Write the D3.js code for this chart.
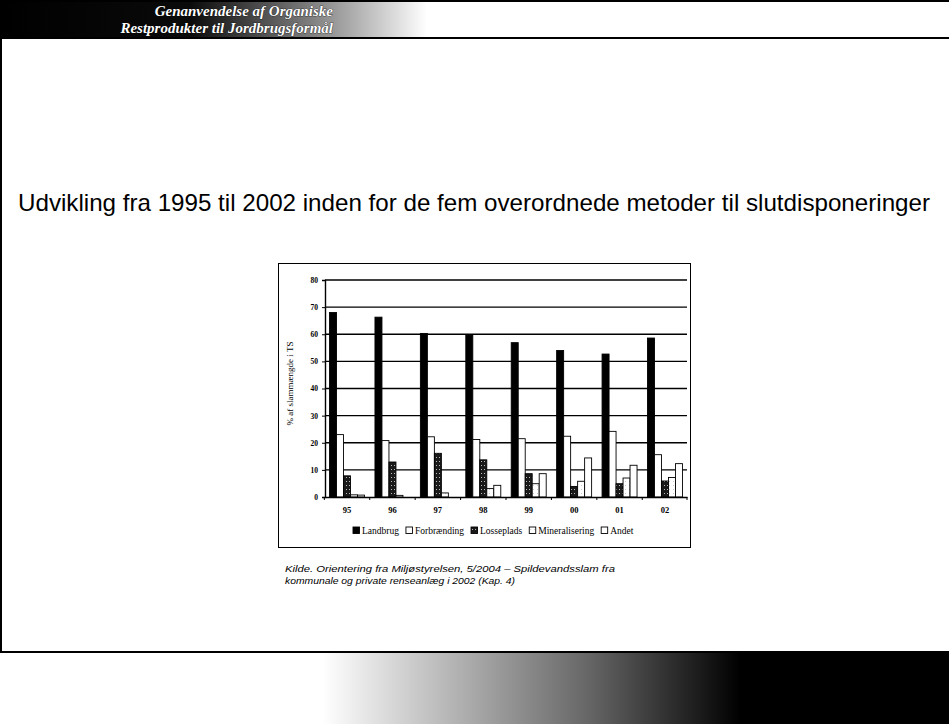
<!DOCTYPE html>
<html>
<head>
<meta charset="utf-8">
<script src="https://cdn.jsdelivr.net/npm/d3@7"></script>
<style>
    body { margin: 0; background: #fff; }
    svg { display: block; }
    .axis text { font-family: "Liberation Serif", serif; font-size: 7.5px; font-weight: bold; }
    .axis path, .axis line { stroke: #000; }
</style>
</head>
<body>
<div id="slide"></div>
<script>
var years = ["95", "96", "97", "98", "99", "00", "01", "02"];
var seriesNames = ["Landbrug", "Forbrænding", "Losseplads", "Mineralisering", "Andet"];
var landbrug = [68, 66.3, 60.3, 59.7, 56.9, 54, 52.7, 58.6];
var forbraending = [23, 20.8, 22.2, 21.2, 21.5, 22.4, 24.2, 15.6];
var losseplads = [7.8, 12.9, 16.1, 13.7, 8.6, 3.9, 4.9, 5.9];
var mineralisering = [0.8, 0.6, 1.5, 3.1, 4.9, 5.8, 7, 7.2];
var andet = [0.7, 0, 0, 4.3, 8.6, 14.4, 11.7, 12.3];
var yTicks = [0, 10, 20, 30, 40, 50, 60, 70, 80];

var W = 949, H = 724;
var svg = d3.select("#slide").append("svg").attr("width", W).attr("height", H);
var defs = svg.append("defs");

// header / footer gradients
var g1 = defs.append("linearGradient").attr("id", "headGrad");
g1.append("stop").attr("offset", "0%").attr("stop-color", "#000");
g1.append("stop").attr("offset", "20%").attr("stop-color", "#0a0a0a");
g1.append("stop").attr("offset", "32%").attr("stop-color", "#777");
g1.append("stop").attr("offset", "45%").attr("stop-color", "#fff");
var g2 = defs.append("linearGradient").attr("id", "footGrad");
g2.append("stop").attr("offset", "0%").attr("stop-color", "#fff");
g2.append("stop").attr("offset", "34%").attr("stop-color", "#fff");
g2.append("stop").attr("offset", "62%").attr("stop-color", "#666");
g2.append("stop").attr("offset", "78%").attr("stop-color", "#000");
g2.append("stop").attr("offset", "100%").attr("stop-color", "#000");

// bar patterns
var p1 = defs.append("pattern").attr("id", "dots").attr("width", 3).attr("height", 4)
    .attr("patternUnits", "userSpaceOnUse");
p1.append("rect").attr("width", 3).attr("height", 4).attr("fill", "#1a1a1a");
p1.append("rect").attr("x", 1).attr("y", 1).attr("width", 1).attr("height", 1).attr("fill", "#bbb");
var p2 = defs.append("pattern").attr("id", "lightdots").attr("width", 4).attr("height", 4)
    .attr("patternUnits", "userSpaceOnUse");
p2.append("rect").attr("width", 4).attr("height", 4).attr("fill", "#fff");
p2.append("rect").attr("x", 1).attr("y", 1).attr("width", 1).attr("height", 1).attr("fill", "#ccc");

// header band
svg.append("rect").attr("x", 0).attr("y", 0).attr("width", W).attr("height", 38).attr("fill", "url(#headGrad)");
svg.append("line").attr("x1", 0).attr("x2", W).attr("y1", 1).attr("y2", 1).attr("stroke", "#000").attr("stroke-width", 2);
svg.append("line").attr("x1", 0).attr("x2", W).attr("y1", 38).attr("y2", 38).attr("stroke", "#000").attr("stroke-width", 2);
var headText = svg.append("g")
    .style("font-family", "'Liberation Serif', serif").style("font-style", "italic")
    .style("font-weight", "bold").style("font-size", "15px")
    .attr("fill", "#fff").attr("stroke", "#000").attr("stroke-width", 0.6).style("paint-order", "stroke");
headText.append("text").attr("x", 333).attr("y", 16).attr("text-anchor", "end").text("Genanvendelse af Organiske");
headText.append("text").attr("x", 333).attr("y", 33).attr("text-anchor", "end").text("Restprodukter til Jordbrugsformål");

// left border + footer
svg.append("line").attr("x1", 1).attr("x2", 1).attr("y1", 38).attr("y2", 652).attr("stroke", "#000").attr("stroke-width", 2);
svg.append("rect").attr("x", 0).attr("y", 652).attr("width", W).attr("height", H - 652).attr("fill", "url(#footGrad)");
svg.append("line").attr("x1", 0).attr("x2", W).attr("y1", 652).attr("y2", 652).attr("stroke", "#000").attr("stroke-width", 2);

// slide title
svg.append("text").attr("x", 18).attr("y", 211)
    .style("font-family", "'Liberation Sans', Arial, sans-serif").style("font-size", "24px")
    .attr("textLength", 912).attr("lengthAdjust", "spacingAndGlyphs")
    .text("Udvikling fra 1995 til 2002 inden for de fem overordnede metoder til slutdisponeringer");

// chart frame
svg.append("rect").attr("x", 278.5).attr("y", 263.5).attr("width", 412).attr("height", 284)
    .attr("fill", "#fff").attr("stroke", "#000").attr("stroke-width", 1);

var margin = { left: 325, top: 280, right: 687, bottom: 497 };
var x = d3.scaleBand().domain(years).range([margin.left, margin.right]).paddingInner(0.23).paddingOuter(0.1);
var xs = d3.scaleBand().domain(seriesNames).range([0, x.bandwidth()]);
var y = d3.scaleLinear().domain([0, 80]).range([margin.bottom, margin.top]);

// grid lines
svg.append("g").selectAll("line").data(yTicks.slice(1)).enter().append("line")
    .attr("x1", margin.left).attr("x2", margin.right)
    .attr("y1", function(d) { return y(d); }).attr("y2", function(d) { return y(d); })
    .attr("stroke", "#000").attr("stroke-width", 1.4);

var fills = ["#000", "#fff", "url(#dots)", "url(#lightdots)", "#fff"];
var allSeries = [landbrug, forbraending, losseplads, mineralisering, andet];

var bars = svg.append("g");
allSeries.forEach(function(vals, si) {
    bars.selectAll(".s" + si).data(vals).enter().append("rect")
        .attr("class", "s" + si)
        .attr("x", function(d, i) { return x(years[i]) + xs(seriesNames[si]); })
        .attr("y", function(d) { return y(d); })
        .attr("width", xs.bandwidth())
        .attr("height", function(d) { return y(0) - y(d); })
        .attr("fill", fills[si])
        .attr("stroke", "#000").attr("stroke-width", function(d) { return d > 0 ? 0.9 : 0; });
});

// axes
var yAxis = d3.axisLeft(y).tickValues(yTicks).tickSize(3).tickPadding(4);
svg.append("g").attr("class", "axis").attr("transform", "translate(" + margin.left + ",0)").call(yAxis)
    .call(function(g) { g.select(".domain").attr("stroke-width", 1.4); });

var xAxis = d3.axisBottom(x).tickSize(0).tickPadding(10);
var xg = svg.append("g").attr("class", "axis").attr("transform", "translate(0," + margin.bottom + ")").call(xAxis);
xg.select(".domain").attr("stroke-width", 1.4);
xg.selectAll(".tick text").style("font-size", "8.5px");
// tick marks between categories
var bounds = years.map(function(d) { return x(d) - x.step() * x.paddingInner() / 2; }).concat([margin.right]);
xg.selectAll(".sep").data(bounds).enter().append("line")
    .attr("x1", function(d) { return d; }).attr("x2", function(d) { return d; })
    .attr("y1", 0).attr("y2", 3).attr("stroke", "#000");

svg.append("text")
    .attr("transform", "translate(293," + ((margin.top + margin.bottom) / 2 - 5) + ") rotate(-90)")
    .attr("text-anchor", "middle")
    .style("font-family", "'Liberation Serif', serif").style("font-size", "9px")
    .text("% af slammængde i TS");

// legend
var legend = svg.append("g").attr("transform", "translate(353,532)");
var lx = 0;
seriesNames.forEach(function(name, i) {
    var item = legend.append("g").attr("transform", "translate(" + lx + ",0)");
    item.append("rect").attr("x", 0).attr("y", -5).attr("width", 6.5).attr("height", 6.5)
        .attr("fill", fills[i]).attr("stroke", "#000").attr("stroke-width", 0.9);
    var t = item.append("text").attr("x", 9).attr("y", 1.5)
        .style("font-family", "'Liberation Serif', serif").style("font-size", "9.5px")
        .text(name);
    lx += 9 + t.node().getComputedTextLength() + 7;
});

// source note
var src = svg.append("g")
    .style("font-family", "'Liberation Sans', Arial, sans-serif").style("font-style", "italic")
    .style("font-size", "9.5px");
src.append("text").attr("x", 285).attr("y", 572)
    .attr("textLength", 330).attr("lengthAdjust", "spacingAndGlyphs")
    .text("Kilde. Orientering fra Miljøstyrelsen, 5/2004 – Spildevandsslam fra");
src.append("text").attr("x", 285).attr("y", 584)
    .attr("textLength", 230).attr("lengthAdjust", "spacingAndGlyphs")
    .text("kommunale og private renseanlæg i 2002 (Kap. 4)");
</script>
</body>
</html>
